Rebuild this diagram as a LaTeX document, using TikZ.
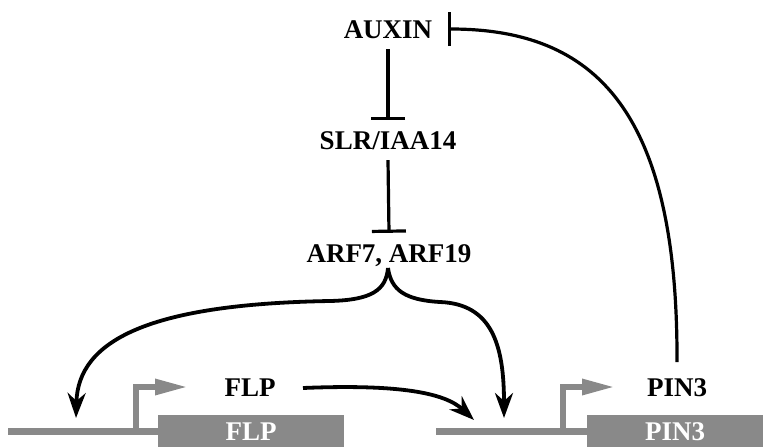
\documentclass[tikz,border=0pt]{standalone}
\usepackage{fontspec}
\setmainfont{Liberation Serif}
\usetikzlibrary{arrows.meta}
\definecolor{genegray}{HTML}{898989}
\tikzset{
  lbl/.style={font=\bfseries\fontsize{27}{31}\selectfont, text height=18pt, text depth=0pt, inner ysep=11pt, inner xsep=4pt},
  inh/.style={line width=3.2pt, -{Bar[width=34pt,line width=3.2pt]}},
  act/.style={line width=3.8pt, -{Stealth[length=25pt,width=18pt,inset=8pt]}},
  dna/.style={genegray, line width=7pt},
  prom/.style={genegray, line width=6pt, line join=miter, -{Triangle[length=33pt,width=15pt]}},
  genebox/.style={fill=genegray, draw=none, inner sep=0pt, text=white, font=\bfseries\fontsize{27}{31}\selectfont}
}
\begin{document}
\begin{tikzpicture}[x=1pt,y=-1pt]
\useasboundingbox (0,0) rectangle (763,447);
% labels
\node[lbl] (auxin) at (388,29) {AUXIN};
\node[lbl] (slr) at (388,140) {SLR/IAA14};
\node[lbl] (arf) at (389,253) {ARF7, ARF19};
\node[lbl] (flp) at (250,387) {FLP};
\node[lbl] (pin) at (677,387) {PIN3};
% gene boxes
\node[genebox, minimum width=186pt, minimum height=32pt, anchor=north west] (flpbox) at (158,415) {FLP};
\node[genebox, minimum width=176pt, minimum height=32pt, anchor=north west] (pinbox) at (587,415) {PIN3};
% DNA lines
\coordinate (dnaL) at (8,431);
\coordinate (dnaR) at (436,431);
\draw[dna] (dnaL) -- (flpbox.west |- dnaL);
\draw[dna] (dnaR) -- (pinbox.west |- dnaR);
% promoters
\coordinate (pL) at (136,431);
\coordinate (pR) at (563,431);
\draw[prom] (pL) -- (136,387) -- (188,387);
\draw[prom] (pR) -- (563,387) -- (615,387);
% inhibitions
\draw[inh] (auxin.south) -- (slr.north);
\draw[inh] (slr.south) -- (arf.north);
\coordinate (pintop) at (677,362);
\coordinate (auxbar) at (448,29);
\draw[inh] (pintop) .. controls (678,110) and (595,29) .. (auxbar);
% brace from ARF
\coordinate (brace) at (388,268);
\coordinate (tgtL) at (76,418);
\coordinate (tgtR) at (504,418);
\draw[act] (brace) .. controls (386,290) and (372,300) .. (330,301)
  .. controls (150,304) and (78,340) .. (tgtL);
\draw[act] (brace) .. controls (391,290) and (405,300) .. (440,302)
  .. controls (492,304) and (504,345) .. (tgtR);
% FLP activates PIN3 promoter
\coordinate (flpout) at (303,388);
\coordinate (tgtF) at (474,420);
\draw[act] (flpout) .. controls (400,384) and (445,393) .. (tgtF);
\end{tikzpicture}
\end{document}
